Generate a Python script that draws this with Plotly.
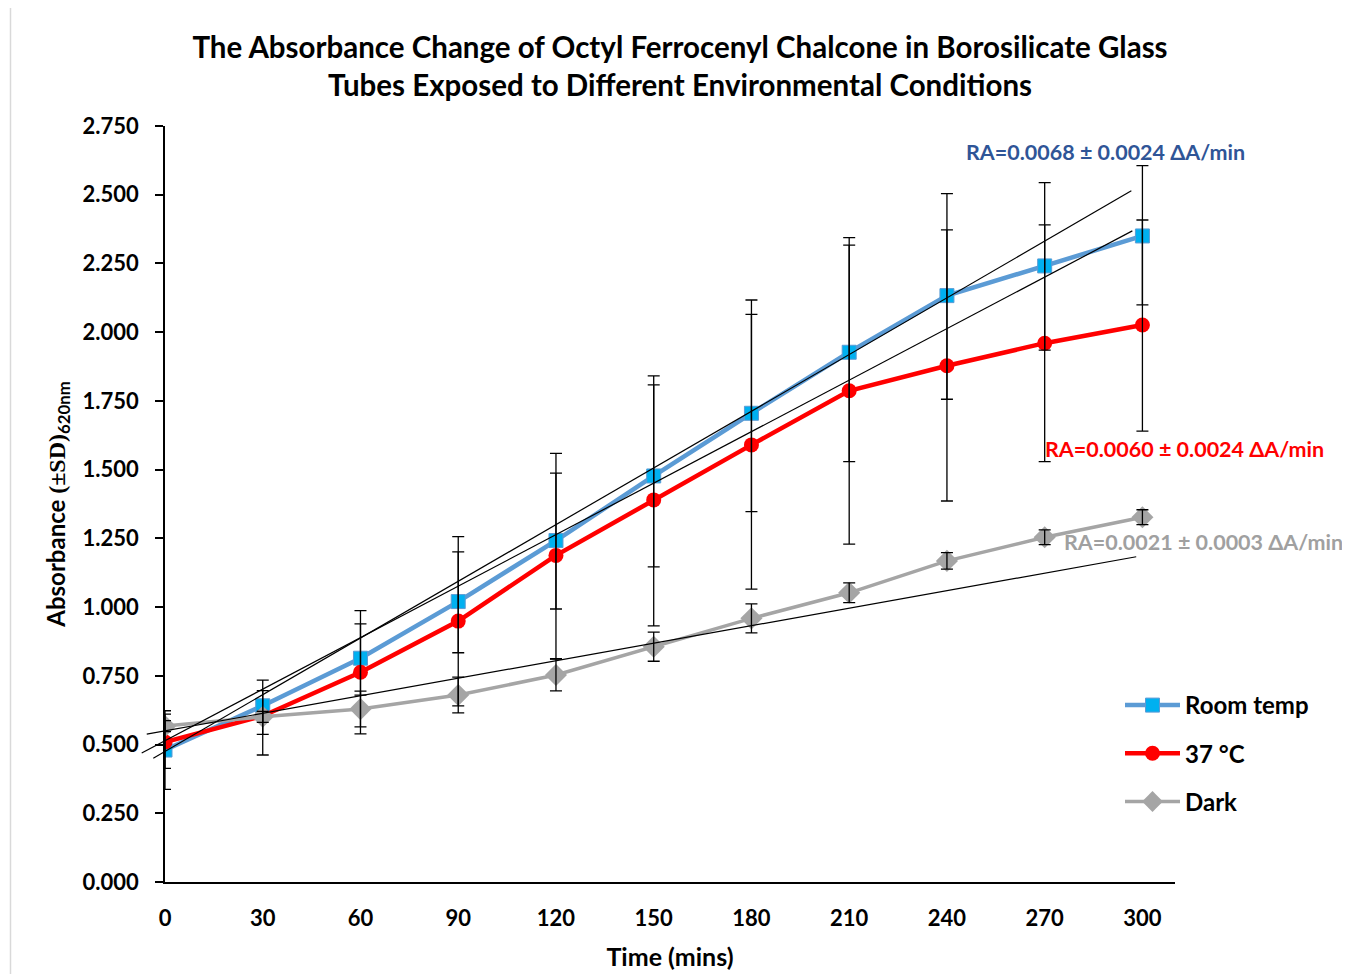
import plotly.graph_objects as go

# ---------------- data ----------------
time_min = [0, 30, 60, 90, 120, 150, 180, 210, 240, 270, 300]
x_ticks = [0, 30, 60, 90, 120, 150, 180, 210, 240, 270, 300]
y_ticks = [0.0, 0.25, 0.5, 0.75, 1.0, 1.25, 1.5, 1.75, 2.0, 2.25, 2.5, 2.75]

room_temp = [0.480, 0.641, 0.814, 1.020, 1.242, 1.477, 1.705, 1.927, 2.133, 2.241, 2.350]
room_err_plus = [0.143, 0.093, 0.173, 0.236, 0.317, 0.364, 0.412, 0.417, 0.371, 0.303, 0.256]
room_err_minus = [0.143, 0.104, 0.134, 0.186, 0.249, 0.331, 0.358, 0.398, 0.377, 0.306, 0.251]

temp37 = [0.509, 0.604, 0.763, 0.949, 1.188, 1.390, 1.590, 1.787, 1.878, 1.960, 2.026]
temp37_err_plus = [0.102, 0.092, 0.176, 0.252, 0.299, 0.418, 0.475, 0.530, 0.494, 0.430, 0.382]
temp37_err_minus = [0.096, 0.142, 0.224, 0.308, 0.376, 0.458, 0.525, 0.558, 0.492, 0.431, 0.386]

dark = [0.567, 0.601, 0.629, 0.680, 0.753, 0.856, 0.959, 1.052, 1.168, 1.254, 1.327]
dark_err = [0.020, 0.020, 0.065, 0.065, 0.058, 0.053, 0.053, 0.036, 0.030, 0.027, 0.027]

series_names = ["Room temp", "37 °C", "Dark"]
# drawn trend lines (slope in A/min, intercept in A, x extent in min)
trend_slope = [0.006875, 0.006246, 0.002124]
trend_intercept = [0.475, 0.514, 0.550]
trend_x_start = [-3.6, -7.15, -5.6]
trend_x_end = [296.6, 296.9, 298.1]

ra_labels = ["RA=0.0068 ± 0.0024 ΔA/min", "RA=0.0060 ± 0.0024 ΔA/min", "RA=0.0021 ± 0.0003 ΔA/min"]

# ---------------- layout geometry (screen px, page has an 8px body margin) ----------------
OFF = 8
W, H = 1350 - OFF, 974 - OFF
PLOT_L, PLOT_R, PLOT_T, PLOT_B = 140, 1175, 126, 882   # screen px of the plot area
ML, MR, MT, MB = PLOT_L - OFF, W - (PLOT_R - OFF), PLOT_T - OFF, H - (PLOT_B - OFF)
PW = PLOT_R - PLOT_L
PH = PLOT_B - PLOT_T
X_MAX = 310
AXIS_LEFT_PX = 165


def px_x(px):
    return (px - PLOT_L) / PW


def px_y(py):
    return (PLOT_B - py) / PH


main_dom0 = px_x(AXIS_LEFT_PX)
min_per_px = X_MAX / (PLOT_R - AXIS_LEFT_PX)
x2_min = X_MAX - PW * min_per_px

FONT = "Lato"
BLUE_LINE = "#5B9BD5"
BLUE_MARK = "#00B0F0"
RED = "#FF0000"
GRAY = "#A5A5A5"

fig = go.Figure()

fig.add_trace(go.Scatter(
    x=time_min, y=room_temp, name=series_names[0], mode="lines+markers",
    line=dict(color=BLUE_LINE, width=4.5),
    marker=dict(symbol="square", size=14, color=BLUE_MARK, line=dict(color=BLUE_LINE, width=1)),
    legendgroup="a",
))
fig.add_trace(go.Scatter(
    x=time_min, y=temp37, name=series_names[1], mode="lines+markers",
    line=dict(color=RED, width=4.5),
    marker=dict(symbol="circle", size=15, color=RED),
    legendgroup="b",
))
fig.add_trace(go.Scatter(
    x=time_min, y=dark, name=series_names[2], mode="lines+markers",
    line=dict(color=GRAY, width=3.5),
    marker=dict(symbol="diamond", size=17, color=GRAY),
    legendgroup="c",
))

# error bars drawn on top
for yv, ep, em in [(room_temp, room_err_plus, room_err_minus),
                   (temp37, temp37_err_plus, temp37_err_minus),
                   (dark, dark_err, dark_err)]:
    fig.add_trace(go.Scatter(
        x=time_min, y=yv, mode="markers", marker=dict(size=2, opacity=0),
        error_y=dict(type="data", symmetric=False, array=ep, arrayminus=em,
                     color="black", thickness=1.3, width=6),
        showlegend=False, hoverinfo="skip",
    ))

# trend lines on an overlay subplot so they can pass slightly left of the y axis
for s, b, xs, xe in zip(trend_slope, trend_intercept, trend_x_start, trend_x_end):
    fig.add_trace(go.Scatter(
        x=[xs, xe], y=[b + s * xs, b + s * xe], mode="lines",
        line=dict(color="black", width=1.2),
        xaxis="x2", yaxis="y2", showlegend=False, hoverinfo="skip",
    ))

ann_colors = ["#2F5597", RED, "#A0A0A0"]
ann_pos = [(965, 152), (1044, 449), (1063, 542)]
annotations = []
for txt, col, (ax_, ay_) in zip(ra_labels, ann_colors, ann_pos):
    annotations.append(dict(
        text="<b>" + txt + "</b>", x=px_x(ax_), y=px_y(ay_), xref="paper", yref="paper",
        xanchor="left", yanchor="middle", showarrow=False, borderpad=0,
        font=dict(family=FONT, size=21.5, color=col),
    ))

fig.update_layout(
    width=W, height=H,
    margin=dict(l=ML, r=MR, t=MT, b=MB, autoexpand=False),
    paper_bgcolor="white", plot_bgcolor="rgba(0,0,0,0)",
    title=dict(
        text="<b>The Absorbance Change of Octyl Ferrocenyl Chalcone in Borosilicate Glass<br>Tubes Exposed to Different Environmental Conditions</b>",
        x=(680 - OFF) / W, xanchor="center", y=1 - 50 / H, yanchor="top",
        font=dict(family=FONT, size=29.5, color="black"),
    ),
    xaxis=dict(
        domain=[main_dom0, 1], range=[0, X_MAX], tickvals=x_ticks,
        showline=True, linecolor="black", linewidth=1.5, ticks="", showgrid=False, zeroline=False,
        tickfont=dict(family=FONT, size=22, color="black", weight="bold"), ticklabelstandoff=16,
        title=dict(text="<b>Time (mins)</b>", font=dict(family=FONT, size=25, color="black"), standoff=18),
        tickformat="d",
    ),
    yaxis=dict(
        range=[0, 2.75], tickvals=y_ticks, tickformat=".3f",
        showline=True, linecolor="black", linewidth=1.5, ticks="outside", ticklen=8, tickwidth=1.5,
        tickcolor="black", showgrid=False, zeroline=False,
        tickfont=dict(family=FONT, size=22, color="black", weight="bold"), ticklabelstandoff=12,
        title=dict(text="<b>Absorbance <span style=\"font-family:'Liberation Serif'\">(±SD)</span><sub>620nm</sub></b>",
                   font=dict(family=FONT, size=24, color="black"), standoff=10),
    ),
    xaxis2=dict(domain=[0, 1], range=[x2_min, X_MAX], visible=False, anchor="y2"),
    yaxis2=dict(domain=[0, 1], range=[0, 2.75], visible=False, anchor="x2"),
    legend=dict(
        x=px_x(1120), y=px_y(683), xanchor="left", yanchor="top",
        font=dict(family=FONT, size=24, color="black", weight="bold"),
        traceorder="grouped", tracegroupgap=14, itemwidth=55,
        bgcolor="rgba(0,0,0,0)",
    ),
    annotations=annotations,
    shapes=[dict(type="rect", xref="paper", yref="paper",
                 x0=px_x(10.5), y0=px_y(1100), x1=px_x(1500), y1=px_y(6.5),
                 line=dict(color="#D9D9D9", width=1.5), fillcolor="rgba(0,0,0,0)", layer="below")],
    showlegend=True,
)

fig.write_html("out.html")
